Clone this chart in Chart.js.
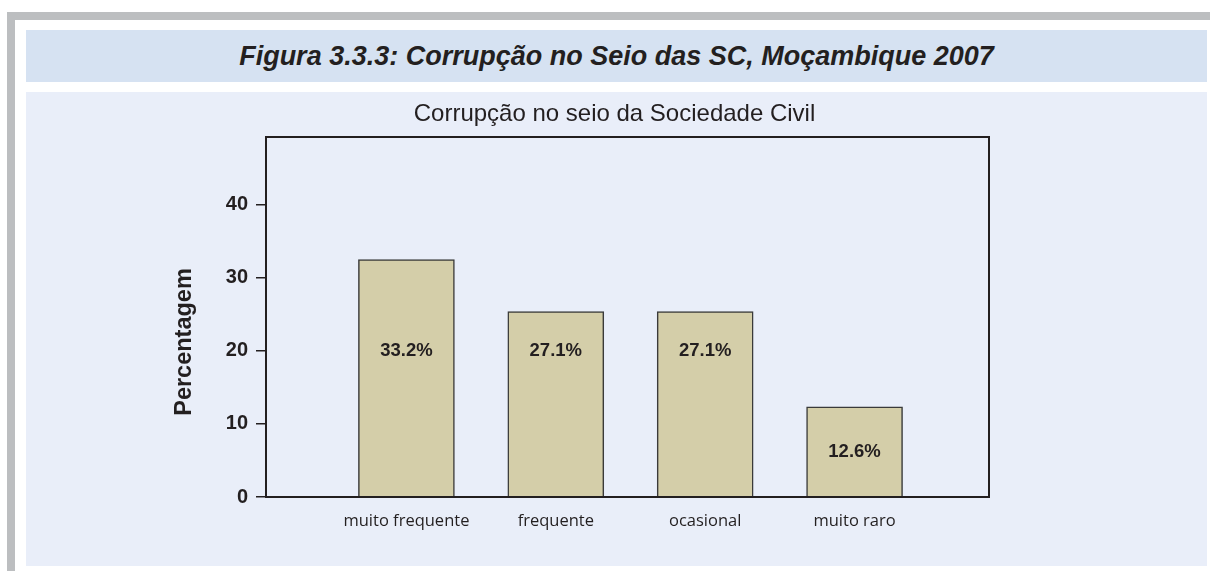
<!DOCTYPE html>
<html>
<head>
<meta charset="utf-8">
<script src="https://cdn.jsdelivr.net/npm/chart.js@4.4.1/dist/chart.umd.min.js"></script>
<style>
  body { margin: 0; background: #fff; width: 1210px; height: 571px; overflow: hidden; position: relative; font-family: "Liberation Sans", Arial, sans-serif; }
  .frame-top { position: absolute; left: 7px; top: 12px; width: 1203px; height: 8px; background: #bcbec0; }
  .frame-left { position: absolute; left: 7px; top: 12px; width: 8px; height: 559px; background: #bcbec0; }
  .band { position: absolute; left: 26px; top: 30px; width: 1181px; height: 52px; background: #d6e2f2;
          font-weight: bold; font-style: italic; font-size: 27px; color: #231f20; text-align: center; line-height: 52px; }
  .panel { position: absolute; left: 26px; top: 92px; width: 1181px; height: 474px; background: #e9eef9; }
  .wrap { position: absolute; left: 0; top: 0; width: 1210px; height: 571px; }
</style>
</head>
<body>
<div class="frame-top"></div>
<div class="frame-left"></div>
<div class="band">Figura 3.3.3: Corrupção no Seio das SC, Moçambique 2007</div>
<div class="panel"></div>
<div class="wrap"><canvas id="chart"></canvas></div>
<script>
var chartTitle = 'Corrupção no seio da Sociedade Civil';
var yTitle = 'Percentagem';
var categories = ['muito frequente', 'frequente', 'ocasional', 'muito raro'];
var values = [32.5, 25.4, 25.4, 12.35];
var valueLabels = ['33.2%', '27.1%', '27.1%', '12.6%'];
var yTicks = [0, 10, 20, 30, 40];

var ink = '#231f20';
var font = '"Liberation Sans", Arial, sans-serif';

// chart title, box round the plot, y title and the labels inside the bars
var extras = {
  id: 'extras',
  afterDatasetsDraw: function (chart) {
    var ctx = chart.ctx;
    var yScale = chart.scales.y;
    var meta = chart.getDatasetMeta(0);
    ctx.save();
    ctx.fillStyle = ink;
    ctx.font = 'bold 18.5px ' + font;
    ctx.textAlign = 'center';
    ctx.textBaseline = 'middle';
    meta.data.forEach(function (bar, i) {
      // label sits at 20 when the bar is taller, else in the middle of the bar
      var pos = values[i] > 20 ? 20 : values[i] / 2;
      ctx.fillText(valueLabels[i], bar.x, yScale.getPixelForValue(pos));
    });
    ctx.restore();
  },
  afterDraw: function (chart) {
    var ctx = chart.ctx;
    var a = chart.chartArea;
    ctx.save();
    ctx.strokeStyle = ink;
    ctx.lineWidth = 2;
    ctx.strokeRect(a.left, a.top, a.right - a.left, a.bottom - a.top);

    ctx.fillStyle = ink;
    ctx.textAlign = 'center';
    ctx.textBaseline = 'middle';
    ctx.font = '24px ' + font;
    ctx.fillText(chartTitle, (a.left + a.right) / 2 - 13, a.top - 23);

    ctx.translate(a.left - 81, (a.top + a.bottom) / 2 + 25);
    ctx.rotate(-Math.PI / 2);
    ctx.font = 'bold 23.5px ' + font;
    ctx.fillText(yTitle, 0, 0);
    ctx.restore();
  }
};

var config = {
  type: 'bar',
  data: {
    datasets: [
      {
        data: categories.map(function (c, i) { return { x: i + 1, y: values[i] }; }),
        backgroundColor: '#d4cea9',
        borderColor: '#3a3a3a',
        borderWidth: 1.5,
        barThickness: 96
      }
    ]
  },
  options: {
    responsive: true,
    maintainAspectRatio: false,
    animation: false,
    layout: { padding: { left: 206, right: 221, top: 137, bottom: 0 } },
    plugins: {
      legend: { display: false },
      tooltip: { enabled: false },
      title: { display: false }
    },
    scales: {
      x: {
        type: 'linear',
        offset: false,
        min: 0.06,
        max: 4.9,
        grid: { display: false, drawTicks: false, offset: false },
        border: { display: true, color: ink, width: 2 },
        afterBuildTicks: function (scale) {
          scale.ticks = categories.map(function (c, i) { return { value: i + 1 }; });
        },
        afterFit: function (scale) { scale.height = 74; },
        ticks: {
          padding: 14,
          color: ink,
          font: { family: '"Open Sans", sans-serif', size: 16.5 },
          callback: function (v) { return categories[v - 1]; }
        }
      },
      y: {
        min: 0,
        max: 49.3,
        grid: { drawOnChartArea: false, drawTicks: true, tickLength: 10, color: ink, lineWidth: 1.5 },
        border: { display: true, color: ink, width: 2 },
        afterBuildTicks: function (scale) {
          scale.ticks = yTicks.map(function (v) { return { value: v }; });
        },
        afterFit: function (scale) { scale.width = 60; },
        ticks: {
          padding: 8,
          color: ink,
          font: { family: font, size: 20, weight: 'bold' }
        }
      }
    }
  },
  plugins: [extras]
};

new Chart(document.getElementById('chart').getContext('2d'), config);
</script>
</body>
</html>
